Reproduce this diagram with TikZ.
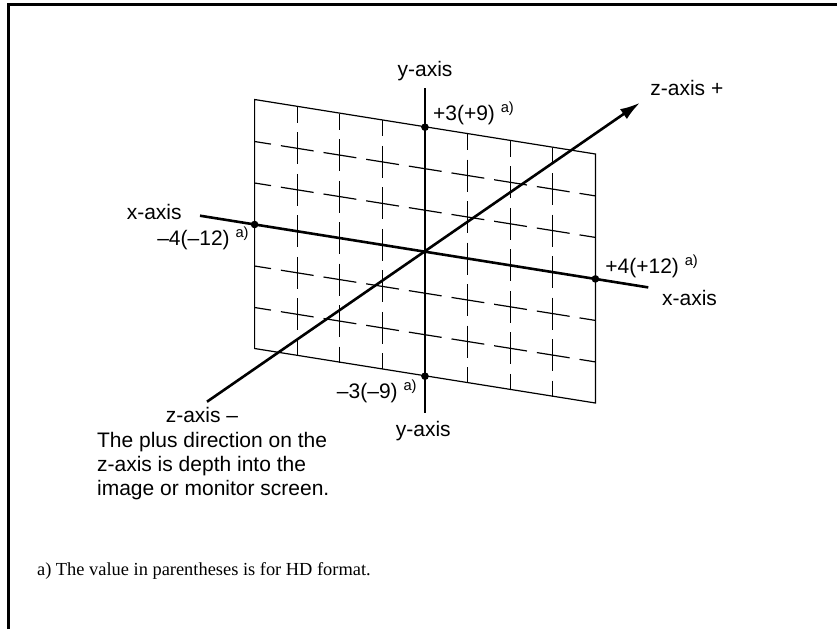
\documentclass[tikz,border=0pt]{standalone}
\usepackage{fontspec}
\setmainfont{Liberation Sans}
\newfontfamily\notefont{Liberation Serif}
\usetikzlibrary{arrows.meta}

\newcommand{\fnmark}{ \textsuperscript{a)}}

\begin{document}
\begin{tikzpicture}[
    x=0.5pt, y=-0.5pt,
    axis/.style={
        line width=1.3pt
    },
    edge/.style={
        line width=0.6pt
    },
    gridh/.style={
        line width=0.6pt,
        dash pattern=on 16.6pt off 5pt,
        dash phase=8.3pt
    },
    gridv/.style={
        line width=0.6pt,
        dash pattern=on 16pt off 4.75pt,
        dash phase=8pt
    },
    dot/.style={
        circle,
        fill,
        inner sep=0pt,
        minimum size=3.8pt
    },
    lbl/.style={
        inner sep=0pt,
        font=\fontsize{10.5}{12}\selectfont
    },
    arrow/.style={-{Latex[length=10pt,width=6pt]}, line width=1.3pt}
]
\useasboundingbox (0,0) rectangle (837,629);

% frame
\draw[line width=1.5pt] (8,629) -- (8,4) -- (837,4);

% plane
\draw[edge] (254.6,99.5) -- (595.4,154) -- (595.4,403) -- (254.6,348.5) -- cycle;
\foreach \i in {-3,-2,-1,1,2,3} {
    \draw[gridv] ({425+42.6*\i},{251.7+6.8*\i-124.5}) -- ({425+42.6*\i},{251.7+6.8*\i+124.5});
}
\foreach \j in {-2,-1,1,2} {
    \draw[gridh] (254.6,{251.7-27.2-41.5*\j}) -- (595.4,{251.7+27.2-41.5*\j});
}

% axes
\coordinate (o) at (425,251.7);
\coordinate (xl) at (200,215.7);
\coordinate (xr) at (648.3,287.4);
\coordinate (yt) at (425,88);
\coordinate (yb) at (425,413);
\coordinate (zl) at (207,401.7);
\coordinate (zr) at (640,102.7);

\draw[axis] (xl) -- (xr);
\draw[axis] (yt) -- (yb);
\draw[arrow] (zl) -- (zr);

\node[dot] (ptop) at (425,127.2) {};
\node[dot] (pbot) at (425,376.2) {};
\node[dot] (pleft) at (254.6,224.5) {};
\node[dot] (pright) at (595.4,278.9) {};

% labels
\node[lbl, anchor=base] (ytop) at (425,76.5) {y-axis};
\node[lbl, anchor=base west] (yplus) at (432.7,120) {+3(+9)\fnmark};
\node[lbl, anchor=base west] (zplus) at (650,95) {z-axis +};
\node[lbl, anchor=base east] (xleft) at (182,219.5) {x-axis};
\node[lbl, anchor=base east] (xminus) at (250,245.5) {–4(–12)\fnmark};
\node[lbl, anchor=base west] (xplus) at (605,273.3) {+4(+12)\fnmark};
\node[lbl, anchor=base west] (xright) at (661.7,305) {x-axis};
\node[lbl, anchor=base east] (yminus) at (418,398) {–3(–9)\fnmark};
\node[lbl, anchor=base] (ybot) at (423.3,436.7) {y-axis};
\node[lbl, anchor=base] (zminus) at (202,422) {z-axis –};
\node[lbl, anchor=base west, align=left] (zdesc) at (96.7,495) {The plus direction on the\\z-axis is depth into the\\image or monitor screen.};

\node[anchor=base west, inner sep=0pt, font=\notefont\fontsize{9.2}{11}\selectfont] (note) at (36.7,575) {a) The value in parentheses is for HD format.};

\end{tikzpicture}
\end{document}
